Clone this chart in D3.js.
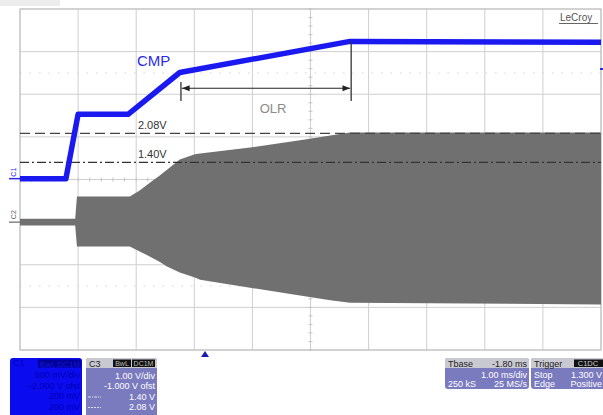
<!DOCTYPE html>
<html><head><meta charset="utf-8">
<script src="https://cdn.jsdelivr.net/npm/d3@7"></script>
<style>html,body{margin:0;padding:0;background:#fff;}svg{display:block;font-family:"Liberation Sans",Arial,sans-serif;}</style>
</head><body>
<script>
// ---- data (time in divisions of 1.00 ms, level in C3 volts: 1.00 V/div, -1.000 V offset) ----
const cmpTime  = [0, 0.79, 1.0, 1.86, 2.75, 5.68, 10];
const cmpLevel = [1.02, 1.02, 2.53, 2.53, 3.51, 4.24, 4.22];

const envTime   = [0, 0.95, 0.98, 1.89, 2.06, 2.24, 2.40, 2.53, 2.75, 3.01, 3.10, 3.96, 4.82, 5.34, 5.68, 10];
const envTop    = [0.08, 0.08, 0.60, 0.60, 0.74, 0.93, 1.09, 1.23, 1.47, 1.59, 1.61, 1.75, 1.92, 2.03, 2.10, 2.10];
const envBottom = [-0.08, -0.08, -0.57, -0.57, -0.69, -0.81, -0.93, -1.04, -1.18, -1.30, -1.35, -1.54, -1.72, -1.83, -1.89, -1.93];

const cursorLevels = [1.40, 2.08];
const cursorLabels = ["1.40V", "2.08V"];
const olrStart = 2.77, olrEnd = 5.70, olrLevel = 3.14;

const c3Rows = ["1.00 V/div", "-1.000 V ofst", "1.40 V", "2.08 V"];
const c1Rows = ["500 mV/div", "-2.000 V ofst", "200 mV", "200 mV"];
const tbaseRows = ["Tbase", "-1.80 ms", "1.00 ms/div", "250 kS", "25 MS/s"];
const trigRows = ["Trigger", "C1DC", "Stop", "1.300 V", "Edge", "Positive"];

const W = 603, H = 415;
const svg = d3.select("body").append("svg").attr("width", W).attr("height", H);
const x = d3.scaleLinear().domain([0, 10]).range([20, 601]);
const y = d3.scaleLinear().domain([-3, 5]).range([350, 9]);

svg.append("rect").attr("x",0).attr("y",0).attr("width",60).attr("height",6).attr("fill","#ececec");

// grid
const g = svg.append("g");
g.selectAll(".vg").data(d3.range(0, 11)).join("line")
  .attr("x1", d => x(d)).attr("x2", d => x(d)).attr("y1", y(5)).attr("y2", y(-3))
  .attr("stroke", "#cfcfcf").attr("stroke-width", 1);
g.selectAll(".hg").data(d3.range(-3, 6)).join("line")
  .attr("y1", d => y(d)).attr("y2", d => y(d)).attr("x1", x(0)).attr("x2", x(10))
  .attr("stroke", "#cfcfcf").attr("stroke-width", 1);
g.selectAll(".dl").data([3.5, -1.5]).join("line")
  .attr("y1", d => y(d)).attr("y2", d => y(d)).attr("x1", x(0)).attr("x2", x(10))
  .attr("stroke", "#d4d4d4").attr("stroke-width", 1).attr("stroke-dasharray", "1.5,8");
g.selectAll(".mtx").data(d3.range(0, 10.01, 0.2)).join("line")
  .attr("x1", d => x(d)).attr("x2", d => x(d)).attr("y1", y(1) - 2).attr("y2", y(1) + 2)
  .attr("stroke", "#c4c4c4");
g.selectAll(".mty").data(d3.range(-3, 5.01, 0.2)).join("line")
  .attr("y1", d => y(d)).attr("y2", d => y(d)).attr("x1", x(5) - 2).attr("x2", x(5) + 2)
  .attr("stroke", "#c4c4c4");
g.append("rect").attr("x", x(0)).attr("y", y(5)).attr("width", x(10) - x(0)).attr("height", y(-3) - y(5))
  .attr("fill", "none").attr("stroke", "#bdbdbd");

// C2 envelope
const env = envTime.map((t, i) => ({t, hi: envTop[i], lo: envBottom[i]}));
svg.append("path").datum(env)
  .attr("d", d3.area().x(d => x(d.t)).y0(d => y(d.lo)).y1(d => y(d.hi)))
  .attr("fill", "#707070");

// cursors
svg.append("line").attr("x1", x(0)).attr("x2", x(10)).attr("y1", y(cursorLevels[1])).attr("y2", y(cursorLevels[1]))
  .attr("stroke", "#444").attr("stroke-width", 1.3).attr("stroke-dasharray", "10,5");
svg.append("line").attr("x1", x(0)).attr("x2", x(10)).attr("y1", y(cursorLevels[0])).attr("y2", y(cursorLevels[0]))
  .attr("stroke", "#333").attr("stroke-width", 1.3).attr("stroke-dasharray", "9,3,2,3");
cursorLabels.forEach((s, i) => {
  svg.append("text").attr("x", x(2.03)).attr("y", y(cursorLevels[i]) - 4)
    .attr("font-size", 11).attr("fill", "#333").text(s);
});

// CMP trace
const cmp = cmpTime.map((t, i) => ({t, v: cmpLevel[i]}));
svg.append("path").datum(cmp)
  .attr("d", d3.line().x(d => x(d.t)).y(d => y(d.v)))
  .attr("fill", "none").attr("stroke", "#1a1af0").attr("stroke-width", 5.5).attr("stroke-linejoin", "round");
svg.append("text").attr("x", 137).attr("y", 66).attr("font-size", 15).attr("fill", "#2a2ae8").text("CMP");

// OLR annotation
const defs = svg.append("defs");
defs.append("marker").attr("id", "ah").attr("viewBox", "0 0 10 10").attr("refX", 10).attr("refY", 5)
  .attr("markerWidth", 7).attr("markerHeight", 7).attr("orient", "auto-start-reverse")
  .append("path").attr("d", "M0,1L10,5L0,9z").attr("fill", "#222");
svg.append("line").attr("x1", x(olrStart)).attr("x2", x(olrStart)).attr("y1", 82).attr("y2", 101).attr("stroke", "#333").attr("stroke-width", 1.3);
svg.append("line").attr("x1", x(olrEnd)).attr("x2", x(olrEnd)).attr("y1", y(4.24)).attr("y2", 101).attr("stroke", "#333").attr("stroke-width", 1.3);
svg.append("line").attr("x1", x(olrStart) + 1).attr("x2", x(olrEnd) - 1).attr("y1", y(olrLevel)).attr("y2", y(olrLevel))
  .attr("stroke", "#222").attr("stroke-width", 1.1)
  .attr("marker-start", "url(#ah)").attr("marker-end", "url(#ah)");
svg.append("text").attr("x", 273).attr("y", 113).attr("text-anchor", "middle").attr("font-size", 13).attr("fill", "#8a8a8a").text("OLR");

// LeCroy logo
svg.append("text").attr("x", 560).attr("y", 21).attr("font-size", 10).attr("fill", "#555").text("LeCroy");
svg.append("line").attr("x1", 559).attr("x2", 598).attr("y1", 23.5).attr("y2", 23.5).attr("stroke", "#666");

// channel markers
svg.append("text").attr("transform", `translate(16,${y(1.02) - 2}) rotate(-90)`).attr("font-size", 7).attr("fill", "#2a2ae8").text("C1");
svg.append("line").attr("x1", 9).attr("x2", 20).attr("y1", y(1.02)).attr("y2", y(1.02)).attr("stroke", "#2a2ae8").attr("stroke-width", 1.5);
svg.append("text").attr("transform", `translate(16,${y(0) - 3}) rotate(-90)`).attr("font-size", 7).attr("fill", "#666").text("C2");
svg.append("line").attr("x1", 9).attr("x2", 20).attr("y1", y(0)).attr("y2", y(0)).attr("stroke", "#666").attr("stroke-width", 1.2);
svg.append("line").attr("x1", 600).attr("x2", 603).attr("y1", 69).attr("y2", 69).attr("stroke", "#2a2ae8").attr("stroke-width", 2);
svg.append("path").attr("d", "M205,351L209,357L201,357Z").attr("fill", "#1a1ab0");

// ---- bottom panels ----
function panel(x0, x1, y0, y1, fill) {
  svg.append("path").attr("d", `M${x0},${y1}V${y0 + 3}Q${x0},${y0} ${x0 + 3},${y0}H${x1 - 3}Q${x1},${y0} ${x1},${y0 + 3}V${y1 - (y1 >= H ? 0 : 3)}` + (y1 >= H ? "Z" : `Q${x1},${y1} ${x1 - 3},${y1}H${x0 + 3}Q${x0},${y1} ${x0},${y1 - 3}Z`))
    .attr("fill", fill);
}
const fs = 9;
panel(10, 82, 358, 416, "#0b0bf0");
svg.append("text").attr("x", 13).attr("y", 366).attr("font-size", fs).attr("fill", "#0000b8").text("C1");
svg.append("rect").attr("x", 38).attr("y", 359.5).attr("width", 43).attr("height", 8).attr("fill", "#00009a");
svg.append("text").attr("x", 80).attr("y", 366.5).attr("text-anchor", "end").attr("font-size", 8).attr("fill", "#1818d0").text("BwL DC1M");
c1Rows.forEach((s, i) => svg.append("text").attr("x", 80).attr("y", 378 + i * 10.5).attr("text-anchor", "end")
  .attr("font-size", fs).attr("fill", "#0000b4").text(s));
panel(86, 157, 358, 416, "#7a7abf");
svg.append("path").attr("d", "M86,368V361Q86,358 89,358H154Q157,358 157,361V368Z").attr("fill", "#c9c9d2");
svg.append("text").attr("x", 89).attr("y", 366.5).attr("font-size", fs).attr("fill", "#222").text("C3");
svg.append("rect").attr("x", 113).attr("y", 359.5).attr("width", 18).attr("height", 7.5).attr("fill", "#111");
svg.append("rect").attr("x", 132).attr("y", 359.5).attr("width", 23).attr("height", 7.5).attr("fill", "#111");
svg.append("text").attr("x", 122).attr("y", 366).attr("text-anchor", "middle").attr("font-size", 7).attr("fill", "#bbb").text("BwL");
svg.append("text").attr("x", 143.5).attr("y", 366).attr("text-anchor", "middle").attr("font-size", 7).attr("fill", "#bbb").text("DC1M");
c3Rows.forEach((s, i) => svg.append("text").attr("x", 155).attr("y", 378.5 + i * 10.5).attr("text-anchor", "end")
  .attr("font-size", fs).attr("fill", "#fff").text(s));
svg.append("line").attr("x1", 88).attr("x2", 101).attr("y1", 397).attr("y2", 397).attr("stroke", "#dde").attr("stroke-dasharray", "3,1,1,1");
svg.append("line").attr("x1", 88).attr("x2", 101).attr("y1", 407.5).attr("y2", 407.5).attr("stroke", "#dde").attr("stroke-dasharray", "2,1");
panel(445, 529, 358, 389, "#7a7abf");
svg.append("path").attr("d", "M445,368V361Q445,358 448,358H526Q529,358 529,361V368Z").attr("fill", "#c9c9d2");
svg.append("text").attr("x", 448).attr("y", 366.5).attr("font-size", fs).attr("fill", "#222").text(tbaseRows[0]);
svg.append("text").attr("x", 527).attr("y", 366.5).attr("text-anchor", "end").attr("font-size", fs).attr("fill", "#222").text(tbaseRows[1]);
svg.append("text").attr("x", 527).attr("y", 377.5).attr("text-anchor", "end").attr("font-size", fs).attr("fill", "#fff").text(tbaseRows[2]);
svg.append("text").attr("x", 448).attr("y", 387).attr("font-size", fs).attr("fill", "#fff").text(tbaseRows[3]);
svg.append("text").attr("x", 527).attr("y", 387).attr("text-anchor", "end").attr("font-size", fs).attr("fill", "#fff").text(tbaseRows[4]);
panel(531, 606, 358, 389, "#7a7abf");
svg.append("path").attr("d", "M531,368V361Q531,358 534,358H606V368Z").attr("fill", "#c9c9d2");
svg.append("text").attr("x", 534).attr("y", 366.5).attr("font-size", fs).attr("fill", "#222").text(trigRows[0]);
svg.append("rect").attr("x", 574).attr("y", 359.5).attr("width", 29).attr("height", 7.5).attr("fill", "#111");
svg.append("text").attr("x", 588).attr("y", 366).attr("text-anchor", "middle").attr("font-size", 7.5).attr("fill", "#ccc").text(trigRows[1]);
svg.append("text").attr("x", 534).attr("y", 377.5).attr("font-size", fs).attr("fill", "#fff").text(trigRows[2]);
svg.append("text").attr("x", 602).attr("y", 377.5).attr("text-anchor", "end").attr("font-size", fs).attr("fill", "#fff").text(trigRows[3]);
svg.append("text").attr("x", 534).attr("y", 387).attr("font-size", fs).attr("fill", "#fff").text(trigRows[4]);
svg.append("text").attr("x", 602).attr("y", 387).attr("text-anchor", "end").attr("font-size", fs).attr("fill", "#fff").text(trigRows[5]);
</script>
</body></html>
